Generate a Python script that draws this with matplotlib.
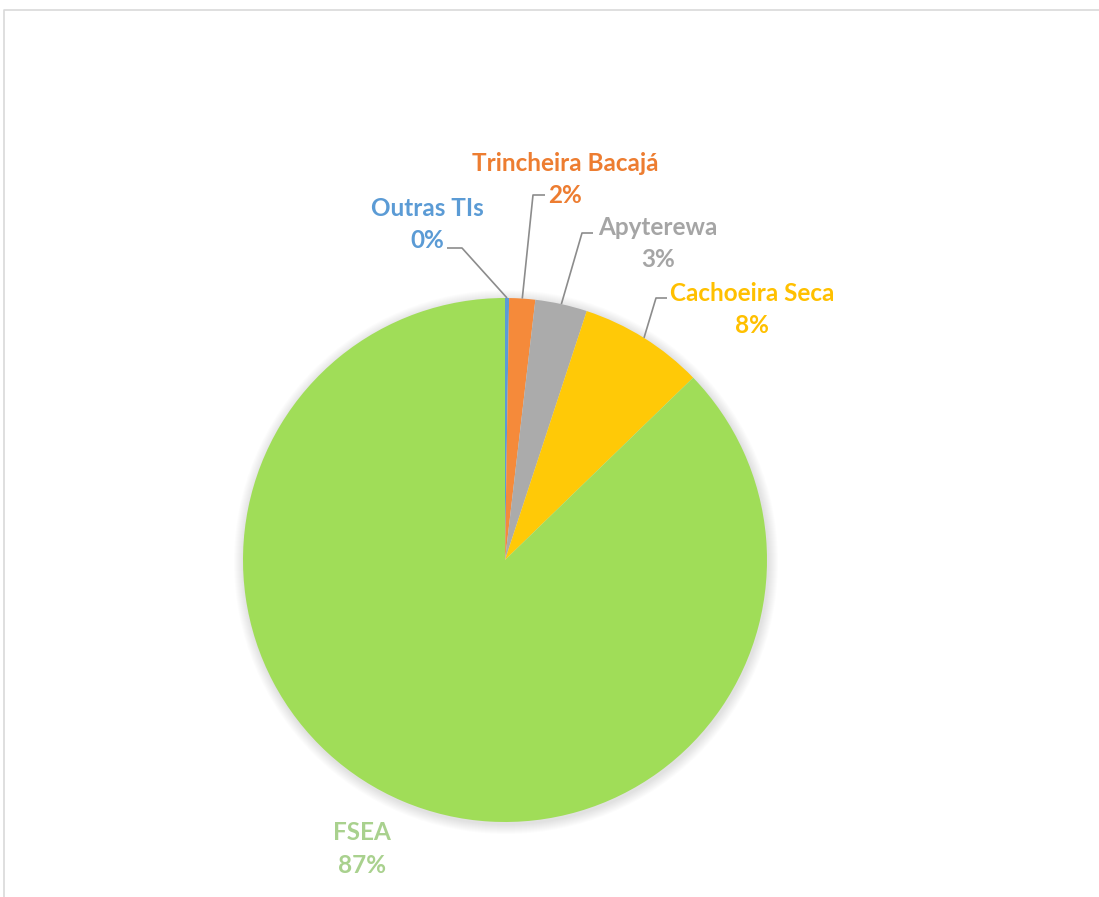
import numpy as np
import matplotlib.pyplot as plt
from matplotlib.patches import Circle

# 数据
categories = ['Outras TIs', 'Trincheira Bacajá', 'Apyterewa', 'Cachoeira Seca', 'FSEA']
values = [0.25, 1.6, 3.2, 7.7, 87.25]
pct_labels = ['0%', '2%', '3%', '8%', '87%']
slice_colors = ['#5B9BD5', '#F58A3A', '#ABABAB', '#FFC907', '#A0DD58']
text_colors = ['#5B9BD5', '#ED7D31', '#A5A5A5', '#FFC000', '#A9D18E']

W, H = 1099, 897
plt.rcParams['font.family'] = ['Lato', 'DejaVu Sans']

fig = plt.figure(figsize=(W / 100, H / 100), dpi=100)
ax = fig.add_axes([0, 0, 1, 1])


def py(y):
    # 像素 y -> 数据 y
    return H - y


cx, cy, r = 505, py(560), 262

# 柔和阴影
for k in range(10):
    ax.add_patch(Circle((cx + 1, cy - 2), r + 10 - k, color='#000000',
                        alpha=0.012, lw=0, zorder=1))

wedges, _ = ax.pie(values, colors=slice_colors, startangle=90, counterclock=False,
                   center=(cx, cy), radius=r, frame=True,
                   wedgeprops=dict(linewidth=0, zorder=2))
ax.set_xlim(0, W)
ax.set_ylim(0, H)
ax.set_aspect('equal')
ax.axis('off')

# 标签位置 (像素) 及引导线拐点
label_pos = [(427, 208), (565, 163), (658, 227), (752, 293), (362, 833)]
elbows = [((462, 248), (447, 248)), ((533, 195), (545, 195)),
          ((582, 233), (593, 233)), ((656, 298), (667, 298)), None]

for w, name, pct, tc, (lx, ly), el in zip(wedges, categories, pct_labels,
                                           text_colors, label_pos, elbows):
    ax.text(lx, py(ly), name, color=tc, fontsize=17.5, fontweight='bold',
            ha='center', va='center', zorder=5)
    ax.text(lx, py(ly + 32), pct, color=tc, fontsize=17.5, fontweight='bold',
            ha='center', va='center', zorder=5)
    if el is not None:
        ang = np.deg2rad((w.theta1 + w.theta2) / 2)
        ex, ey = cx + r * np.cos(ang), cy + r * np.sin(ang)
        (bx, by), (tx, ty) = el
        ax.plot([ex, bx, tx], [ey, py(by), py(ty)], color='#8C8C8C',
                lw=1.2, zorder=4, solid_capstyle='butt')

# 外框
ax.plot([3.5, 3.5, W], [0, py(9.5), py(9.5)], color='#D9D9D9', lw=1.2, zorder=6)

fig.savefig('out.png', dpi=100)
